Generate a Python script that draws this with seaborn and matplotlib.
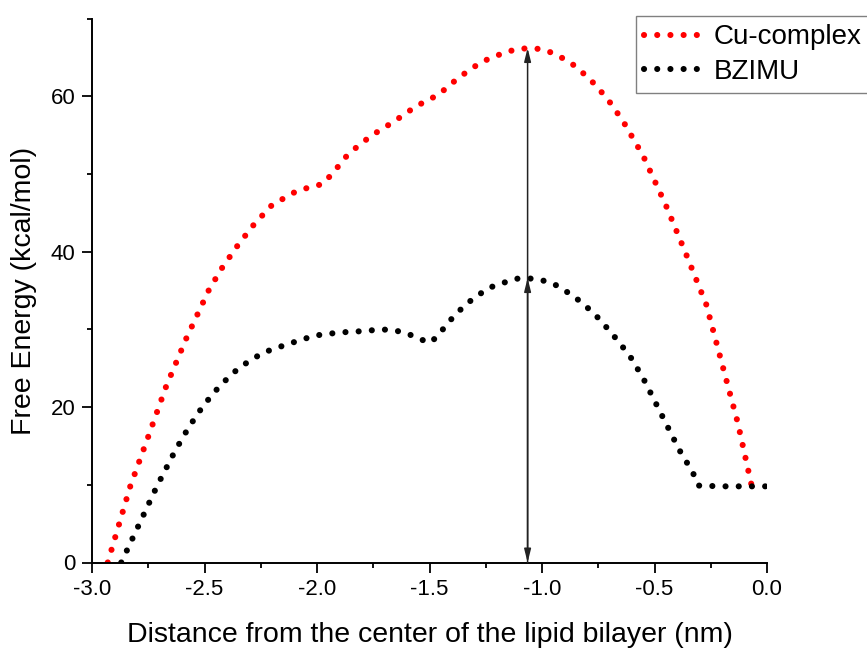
import matplotlib
matplotlib.use("Agg")
import matplotlib.pyplot as plt
import seaborn as sns
import pandas as pd

# Cu-complex free energy profile (kcal/mol) vs distance (nm)
cu_x = [-2.93, -2.83, -2.75, -2.67, -2.58, -2.48, -2.42, -2.35, -2.28, -2.20,
        -2.09, -2.03, -1.975, -1.93, -1.86, -1.76, -1.66, -1.56, -1.46, -1.37,
        -1.27, -1.16, -1.10, -1.04, -0.98, -0.88, -0.79, -0.71, -0.64, -0.55,
        -0.45, -0.36, -0.27, -0.18, -0.13, -0.07, -0.02]
cu_y = [0.0, 9.8, 16.2, 22.7, 28.9, 35.1, 38.0, 40.9, 43.5, 46.0,
        47.8, 48.3, 48.7, 50.1, 52.6, 54.9, 56.7, 58.7, 60.2, 62.4,
        64.4, 65.7, 66.1, 66.2, 65.9, 64.5, 62.3, 59.7, 56.8, 52.3,
        46.0, 39.7, 33.2, 23.4, 18.0, 10.1, 9.7]

# BZIMU free energy profile
bz_x = [-2.87, -2.71, -2.63, -2.57, -2.505, -2.43, -2.345, -2.24, -2.13, -2.01,
        -1.90, -1.78, -1.72, -1.66, -1.60, -1.55, -1.495, -1.456, -1.42, -1.34,
        -1.24, -1.18, -1.12, -1.07, -1.01, -0.95, -0.86, -0.77, -0.69, -0.61,
        -0.55, -0.47, -0.39, -0.33, -0.305, -0.2, -0.1, 0.0]
bz_y = [0.0, 9.9, 14.4, 17.4, 20.2, 22.8, 25.1, 27.0, 28.1, 29.2,
        29.6, 29.8, 30.0, 29.9, 29.5, 28.8, 28.3, 29.4, 30.8, 33.2,
        35.3, 35.9, 36.5, 36.6, 36.4, 35.9, 34.3, 32.1, 29.5, 26.6,
        23.7, 19.1, 14.5, 11.6, 9.9, 9.8, 9.8, 9.8]

barrier_x = -1.064
x_ticks = [-3.0, -2.5, -2.0, -1.5, -1.0, -0.5, 0.0]
y_ticks = [0, 20, 40, 60]


def main():
    sns.set_style("ticks")
    plt.rcParams['font.family'] = ['Liberation Sans', 'DejaVu Sans']
    plt.rcParams['text.color'] = 'black'
    plt.rcParams['axes.labelcolor'] = 'black'

    fig = plt.figure(figsize=(8.67, 6.48), dpi=100)
    ax = fig.add_axes([92 / 867, 1 - 562.5 / 648, 675 / 867, 544 / 648])

    dot_style = dict(linewidth=4.4, linestyle=(0, (0.01, 2.15)),
                     dash_capstyle='round', solid_capstyle='round')
    cu = pd.DataFrame({'x': cu_x, 'y': cu_y})
    bz = pd.DataFrame({'x': bz_x, 'y': bz_y})
    sns.lineplot(data=cu, x='x', y='y', color='#ff0000', label='Cu-complex',
                 ax=ax, **dot_style)
    sns.lineplot(data=bz, x='x', y='y', color='black', label='BZIMU',
                 ax=ax, **dot_style)

    # barrier arrows
    ax.annotate('', xy=(barrier_x, max(cu_y)), xytext=(barrier_x, 0),
                arrowprops=dict(arrowstyle='<|-|>,head_length=0.8,head_width=0.2',
                                color='#222222', lw=1.1, shrinkA=0, shrinkB=0))
    ax.annotate('', xy=(barrier_x, max(bz_y)), xytext=(barrier_x, 0),
                arrowprops=dict(arrowstyle='-|>,head_length=0.8,head_width=0.2',
                                color='#222222', lw=1.1, shrinkA=0, shrinkB=0))

    ax.set_xlim(-3.0, 0.0)
    ax.set_ylim(0, 70)
    ax.set_xticks(x_ticks)
    ax.set_xticklabels([f'{t:.1f}' for t in x_ticks])
    ax.set_yticks(y_ticks)
    ax.set_xticks([-2.75, -2.25, -1.75, -1.25, -0.75, -0.25], minor=True)
    ax.set_yticks([10, 30, 50, 70], minor=True)
    ax.tick_params(which='major', direction='out', length=7, width=1.3,
                   labelsize=16, color='black', labelcolor='black', pad=5)
    ax.tick_params(which='minor', direction='out', length=3.5, width=1.3,
                   color='black')
    for side in ['top', 'right']:
        ax.spines[side].set_visible(False)
    for side in ['left', 'bottom']:
        ax.spines[side].set_linewidth(1.4)
        ax.spines[side].set_color('black')

    ax.set_xlabel('Distance from the center of the lipid bilayer (nm)',
                  fontsize=20.5, labelpad=16)
    ax.set_ylabel('Free Energy (kcal/mol)', fontsize=20.5, labelpad=10)

    ax.legend(loc='upper left', bbox_to_anchor=(636 / 867, 1 - 16 / 648),
              bbox_transform=fig.transFigure, fontsize=20, frameon=True,
              fancybox=False, edgecolor='#808080', framealpha=1,
              borderpad=0.3, handlelength=2.2, handletextpad=0.3,
              labelspacing=0.3, borderaxespad=0)
    ax.get_legend().get_frame().set_linewidth(1.0)

    fig.savefig('out.png', dpi=100)
    plt.close(fig)


if __name__ == "__main__":
    main()
